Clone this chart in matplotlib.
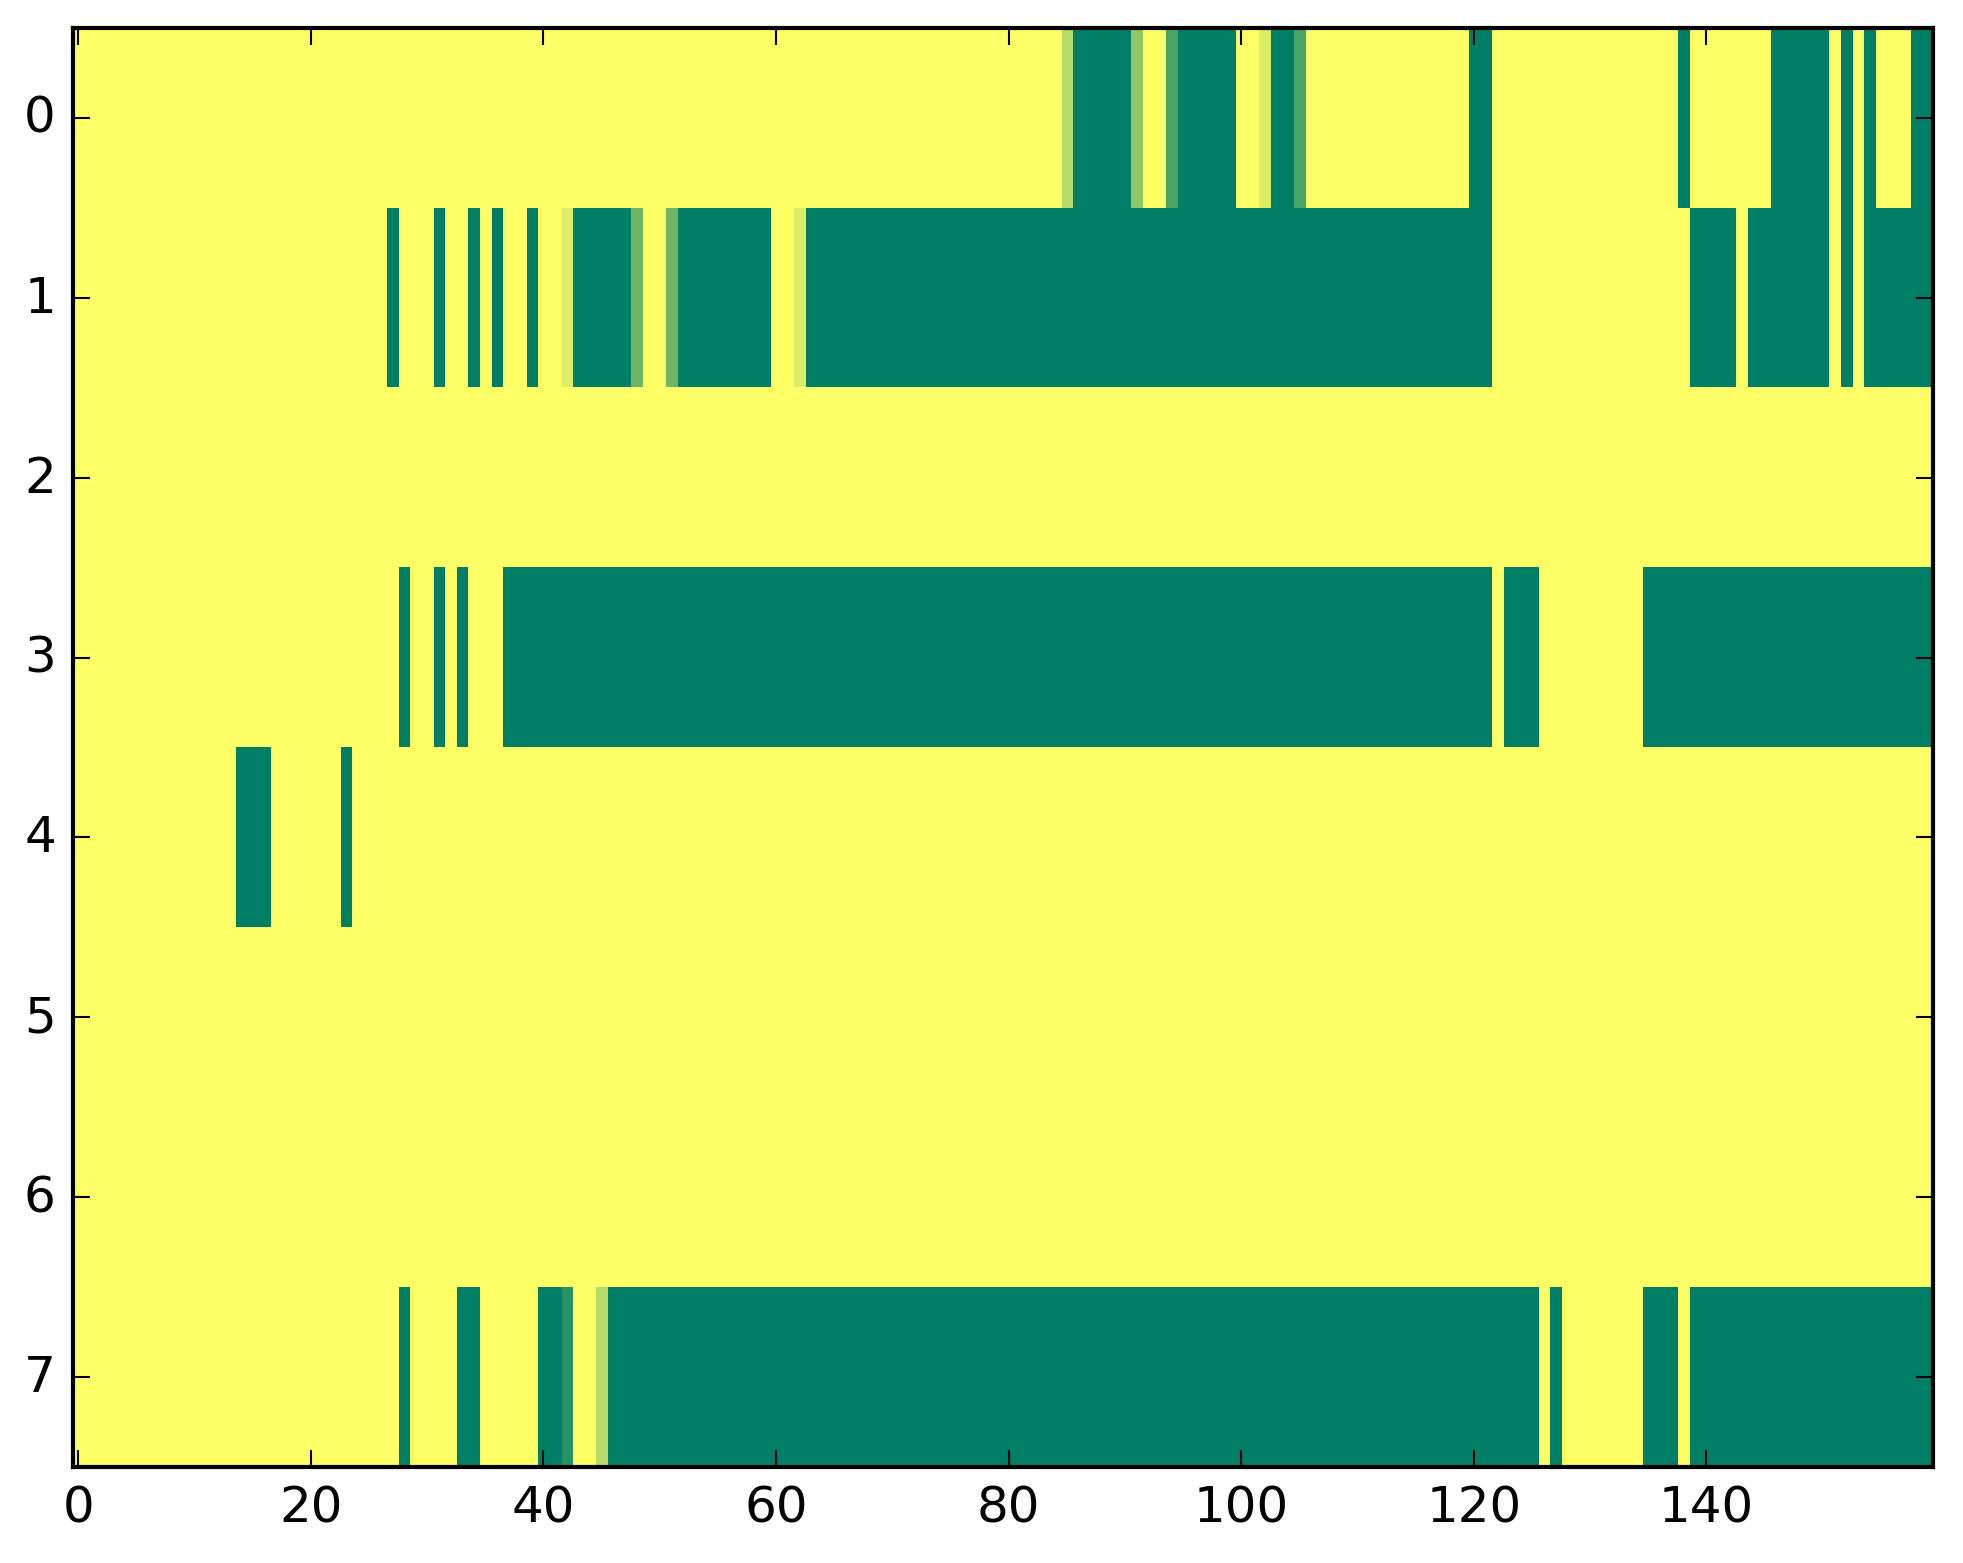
import numpy as np
import matplotlib
matplotlib.use('Agg')
import matplotlib.pyplot as plt

# cell values: '.' = 1 (yellow), '#' = 0 (green),
# letters = in-between shades
shade = {'.': 1.0, '#': 0.0, 'a': 0.71, 'b': 0.56, 'c': 0.29,
         'd': 0.86, 'e': 0.43, 'f': 0.15}

row0 = ('.' * 85 + 'a' + '#' * 5 + 'b' + '..' + 'c' + '#' * 5 + '..' + 'd'
        + '##' + 'c' + '.' * 14 + '##' + '.' * 16 + '#' + '.' * 7 + '#' * 5
        + '.#.#...##')
row1 = ('.' * 27 + '#...#..#.#..#..d' + '#' * 5 + 'e..e' + '#' * 8 + '..d'
        + '#' * 59 + '.' * 17 + '####.' + '#' * 7 + '.#.' + '#' * 6)
row2 = '.' * 160
row3 = ('.' * 28 + '#..#.#...' + '#' * 85 + '.###' + '.' * 9 + '#' * 25)
row4 = '.' * 14 + '###' + '.' * 6 + '#' + '.' * 136
row5 = '.' * 160
row6 = '.' * 160
row7 = ('.' * 28 + '#....##.....##f..a' + '#' * 80 + '.#' + '.' * 7
        + '###.' + '#' * 21)

rows = [row0, row1, row2, row3, row4, row5, row6, row7]
grid = np.array([[shade[ch] for ch in r] for r in rows])

xticks = [0, 20, 40, 60, 80, 100, 120, 140]
yticks = [0, 1, 2, 3, 4, 5, 6, 7]

plt.style.use('classic')
fig = plt.figure(figsize=(1963 / 300, 1564 / 300), dpi=300)
ax = fig.add_axes([72.5 / 1963, 1 - 1468 / 1564,
                   (1933 - 72.5) / 1963, (1468 - 29) / 1564])
ax.imshow(grid, cmap='summer', vmin=0, vmax=1, aspect='auto',
          interpolation='nearest')
ax.set_xticks(xticks)
ax.set_yticks(yticks)
ax.set_xlim(-0.5, 159.5)
ax.set_ylim(7.5, -0.5)
ax.tick_params(labelsize=12)

fig.savefig('out.png', dpi=300)
